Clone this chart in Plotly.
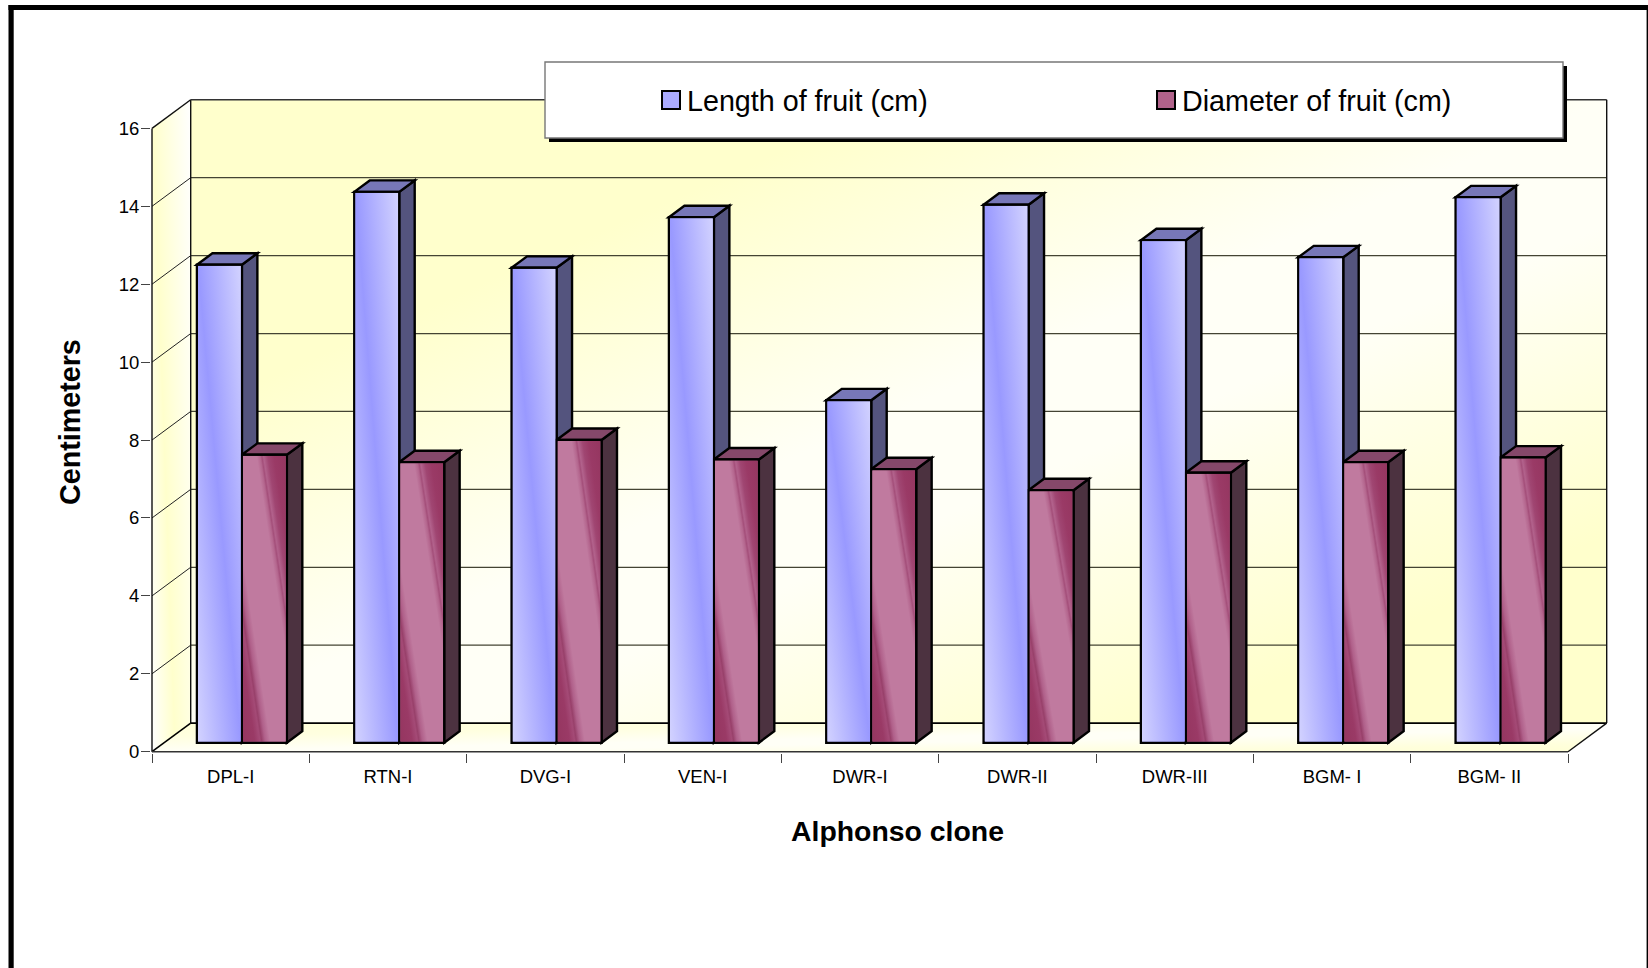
import base64
import plotly.graph_objects as go

# ---- data -------------------------------------------------------------
clones = ["DPL-I", "RTN-I", "DVG-I", "VEN-I", "DWR-I", "DWR-II", "DWR-III", "BGM- I", "BGM- II"]
fruit_length = [12.27, 14.14, 12.19, 13.49, 8.79, 13.81, 12.90, 12.46, 14.00]
fruit_diameter = [7.39, 7.20, 7.77, 7.27, 7.02, 6.48, 6.93, 7.20, 7.32]
value_ticks = list(range(0, 17, 2))

# ---- page geometry (pixels) --------------------------------------------
W, H = 1648, 968
FRONT_L, FRONT_R = 152.0, 1568.0
FRONT_Y0, FRONT_Y16 = 751.7, 128.4
BACK_DX, BACK_DY = 38.7, 28.6

# the plot area sits on whole pixels, the axis ranges absorb the remainder
PLOT_L, PLOT_R = 151, 1608
PLOT_T, PLOT_B = 98, 753
PLOT_W, PLOT_H = PLOT_R - PLOT_L, PLOT_B - PLOT_T

n = len(clones)
px_x = (FRONT_R - FRONT_L) / n
px_y = (FRONT_Y0 - FRONT_Y16) / 16

# pseudo-3D offsets expressed in axis units
dx_wall = BACK_DX / px_x
dy_wall = BACK_DY / px_y
dx_inset = dx_wall * 0.29
dy_inset = 9.0 / px_y
dx_bar = dx_wall * 0.40
dy_bar = dy_wall * 0.40
bar_w = 1 / 3.5
nudge_x = 1 / px_x
nudge_y = 1 / px_y


def svg_uri(defs, body):
    svg = (
        '<svg xmlns="http://www.w3.org/2000/svg" width="100" height="100" '
        'viewBox="0 0 100 100" preserveAspectRatio="none">'
        f"<defs>{defs}</defs>{body}</svg>"
    )
    return "data:image/svg+xml;base64," + base64.b64encode(svg.encode()).decode()


def gradient(vec, stops):
    x1, y1, x2, y2 = vec
    s = "".join(f'<stop offset="{o}" stop-color="{c}"/>' for o, c in stops)
    return f'<linearGradient id="g" x1="{x1}" y1="{y1}" x2="{x2}" y2="{y2}">{s}</linearGradient>'


WALL_STOPS = [(0, "#ffffcc"), (0.25, "#ffffcc"), (0.5, "#fffff6"), (0.6, "#fffff6"), (0.85, "#ffffcc"), (1, "#ffffcc")]
FLOOR_STOPS = [(0, "#ffffd8"), (0.25, "#ffffe0"), (0.5, "#fffff6"), (0.6, "#fffff6"), (0.85, "#ffffdc"), (1, "#ffffd4")]
LENGTH_STOPS = [(0, "#d2d2ff"), (0.5, "#9999ff"), (1, "#d2d2ff")]
DIAMETER_STOPS = [
    (0, "#953660"), (0.14, "#9a3a66"), (0.2, "#a44a76"), (0.22, "#98406a"), (0.26, "#b0608a"), (0.32, "#c07a9f"),
    (0.66, "#c07a9f"), (0.7, "#b4668e"), (0.72, "#a44f7a"), (0.74, "#b2628c"), (0.79, "#a04672"),
    (0.86, "#9a3a66"), (1, "#953660"),
]

wall_grad = gradient((0, 0, 1, 1), WALL_STOPS)
floor_grad = gradient((0, 0, 1, 1), FLOOR_STOPS)
rect_fill = '<rect width="100" height="100" fill="url(#g)"/>'

images = []


def add_image(source, left, top, sx, sy, layer):
    images.append(dict(source=source, xref="x", yref="y", x=left, y=top, sizex=sx, sizey=sy,
                       xanchor="left", yanchor="top", sizing="stretch", layer=layer))


# back wall
add_image(svg_uri(wall_grad, rect_fill), dx_wall, 16 + dy_wall, n, 16, "below")

# side wall: parallelogram inside its bounding box
side_h = 16 + dy_wall
off = 100 * dy_wall / side_h
side_grad = gradient((0, 1, 1.176, 0.294), [(0, "#ffffff"), (0.375, "#ffffcc"), (1, "#ffffff")])
side_poly = f'<polygon points="0,{off} 100,0 100,{100 - off} 0,100" fill="url(#g)"/>'
add_image(svg_uri(side_grad, side_poly), 0, side_h, dx_wall, side_h, "below")

# floor: parallelogram inside its bounding box
floor_w = n + dx_wall
off_x = 100 * dx_wall / floor_w
floor_poly = f'<polygon points="0,100 {off_x},0 100,0 {100 - off_x},100" fill="url(#g)"/>'
add_image(svg_uri(floor_grad, floor_poly), 0, dy_wall, floor_w, dy_wall, "below")


def seg(x0, y0, x1, y1, color="#111111", width=1.4):
    return dict(type="line", xref="x", yref="y", x0=x0, y0=y0, x1=x1, y1=y1,
                line=dict(color=color, width=width), layer="between")


def face(points, fill):
    d = "M" + "L".join(f"{x},{y}" for x, y in points) + "Z"
    return dict(type="path", xref="x", yref="y", path=d, fillcolor=fill,
                line=dict(color="black", width=2.4), layer="between")


shapes = []

# gridlines run along the side wall and across the back wall
for v in value_ticks[1:-1]:
    shapes.append(seg(0, v, dx_wall, v + dy_wall, "#222222", 1))
    shapes.append(seg(dx_wall, v + dy_wall, n + dx_wall, v + dy_wall, "#444433", 1.2))

# box edges
shapes += [
    seg(0, 0, 0, 16),
    seg(0, 16, dx_wall, 16 + dy_wall),
    seg(dx_wall, dy_wall, dx_wall, 16 + dy_wall),
    seg(dx_wall, 16 + dy_wall, n + dx_wall, 16 + dy_wall, "#333333", 1.6),
    seg(n + dx_wall, dy_wall, n + dx_wall, 16 + dy_wall),
    seg(0, 0, dx_wall, dy_wall, "black", 1.6),
    seg(dx_wall, dy_wall, n + dx_wall, dy_wall, "black", 1.8),
    seg(n, 0, n + dx_wall, dy_wall),
    seg(0, 0, n, 0, "#333333", 1.6),
]


def left_edges(series_index):
    return [i + 0.5 - bar_w + series_index * bar_w + dx_inset for i in range(n)]


series = [
    dict(name="Length of fruit (cm)", values=fruit_length, base_color="#a6a6ff",
         stops=LENGTH_STOPS, top="#7777b8", side="#54547e"),
    dict(name="Diameter of fruit (cm)", values=fruit_diameter, base_color="#b0628a",
         stops=DIAMETER_STOPS, top="#85486a", side="#4c3240"),
]

traces = []
for k, s in enumerate(series):
    lefts = left_edges(k)
    face_grad = svg_uri(gradient((0, 1, 1, 0), s["stops"]), rect_fill)
    for x0, v in zip(lefts, s["values"]):
        x1 = x0 + bar_w
        y_top = dy_inset + v
        shapes.append(face([(x1, dy_inset), (x1 + dx_bar, dy_inset + dy_bar),
                            (x1 + dx_bar, y_top + dy_bar), (x1, y_top)], s["side"]))
        shapes.append(face([(x0, y_top), (x0 + dx_bar, y_top + dy_bar),
                            (x1 + dx_bar, y_top + dy_bar), (x1, y_top)], s["top"]))
        add_image(face_grad, x0 + nudge_x, y_top - nudge_y, bar_w - 2 * nudge_x, v - 2 * nudge_y, "above")
    traces.append(go.Bar(
        name=s["name"],
        x=[x + bar_w / 2 for x in lefts],
        y=s["values"],
        base=dy_inset,
        width=bar_w,
        marker=dict(color=s["base_color"], line=dict(color="black", width=2.4)),
        showlegend=False,
    ))


def paper_rect(x0, y0, x1, y1, fill, line_color=None, line_width=0):
    return dict(type="rect", xref="paper", yref="paper", layer="above",
                x0=(x0 - PLOT_L) / PLOT_W, x1=(x1 - PLOT_L) / PLOT_W,
                y0=(PLOT_B - y1) / PLOT_H, y1=(PLOT_B - y0) / PLOT_H,
                fillcolor=fill, line=dict(color=line_color or fill, width=line_width))


# legend panel with its drop shadow and swatches
shapes += [
    paper_rect(549, 66, 1567, 142, "black"),
    paper_rect(545, 62, 1563, 138, "white", "#777777", 1.4),
    paper_rect(662, 91, 680, 109, "#aaaaff", "black", 2),
    paper_rect(1157, 91, 1175, 109, "#b0628a", "black", 2),
]

# outer frame of the page
shapes += [
    paper_rect(8.5, 5, 13.7, H + 5, "black"),
    paper_rect(8.5, 5, W, 10, "black"),
    paper_rect(1646.6, 5, W, H + 5, "black"),
]


def paper_text(text, px, py, size, bold=False, angle=0, xanchor="center"):
    return dict(text=f"<b>{text}</b>" if bold else text, xref="paper", yref="paper",
                x=(px - PLOT_L) / PLOT_W, y=(PLOT_B - py) / PLOT_H,
                xanchor=xanchor, yanchor="middle", textangle=angle, showarrow=False,
                font=dict(family="Liberation Sans", size=size, color="black"))


annotations = [
    paper_text(series[0]["name"], 684.5, 101, 28.7, xanchor="left"),
    paper_text(series[1]["name"], 1180, 101, 28.7, xanchor="left"),
    paper_text("Alphonso clone", 897, 831, 28.4, bold=True),
    paper_text("Centimeters", 70, 422, 28.7, bold=True, angle=-90),
]

fig = go.Figure(traces)
fig.update_layout(
    width=W, height=H, autosize=False,
    margin=dict(l=PLOT_L, r=W - PLOT_R, t=PLOT_T, b=H - PLOT_B, pad=0),
    paper_bgcolor="white", plot_bgcolor="rgba(0,0,0,0)",
    barmode="overlay", showlegend=False,
    shapes=shapes, images=images, annotations=annotations,
    font=dict(family="Liberation Sans", color="black"),
)
fig.update_xaxes(
    range=[(PLOT_L - FRONT_L) / px_x, (PLOT_R - FRONT_L) / px_x],
    tickmode="array",
    tickvals=[i + 0.5 for i in range(n)],
    ticktext=clones,
    ticks="",
    tickfont=dict(size=18.5),
    ticklabelstandoff=10,
    showgrid=False, zeroline=False, showline=False,
    minor=dict(tickmode="array", tickvals=list(range(n + 1)), ticks="outside",
               ticklen=9, tickcolor="#444444", tickwidth=1.2, showgrid=False),
)
fig.update_yaxes(
    range=[(FRONT_Y0 - PLOT_B) / px_y, (FRONT_Y0 - PLOT_T) / px_y],
    tickmode="array",
    tickvals=value_ticks,
    ticks="outside", ticklen=9, tickcolor="#444444", tickwidth=1.2,
    tickfont=dict(size=18.5),
    ticklabelstandoff=-2,
    showgrid=False, zeroline=False, showline=False,
)

fig.write_html("out.html")
